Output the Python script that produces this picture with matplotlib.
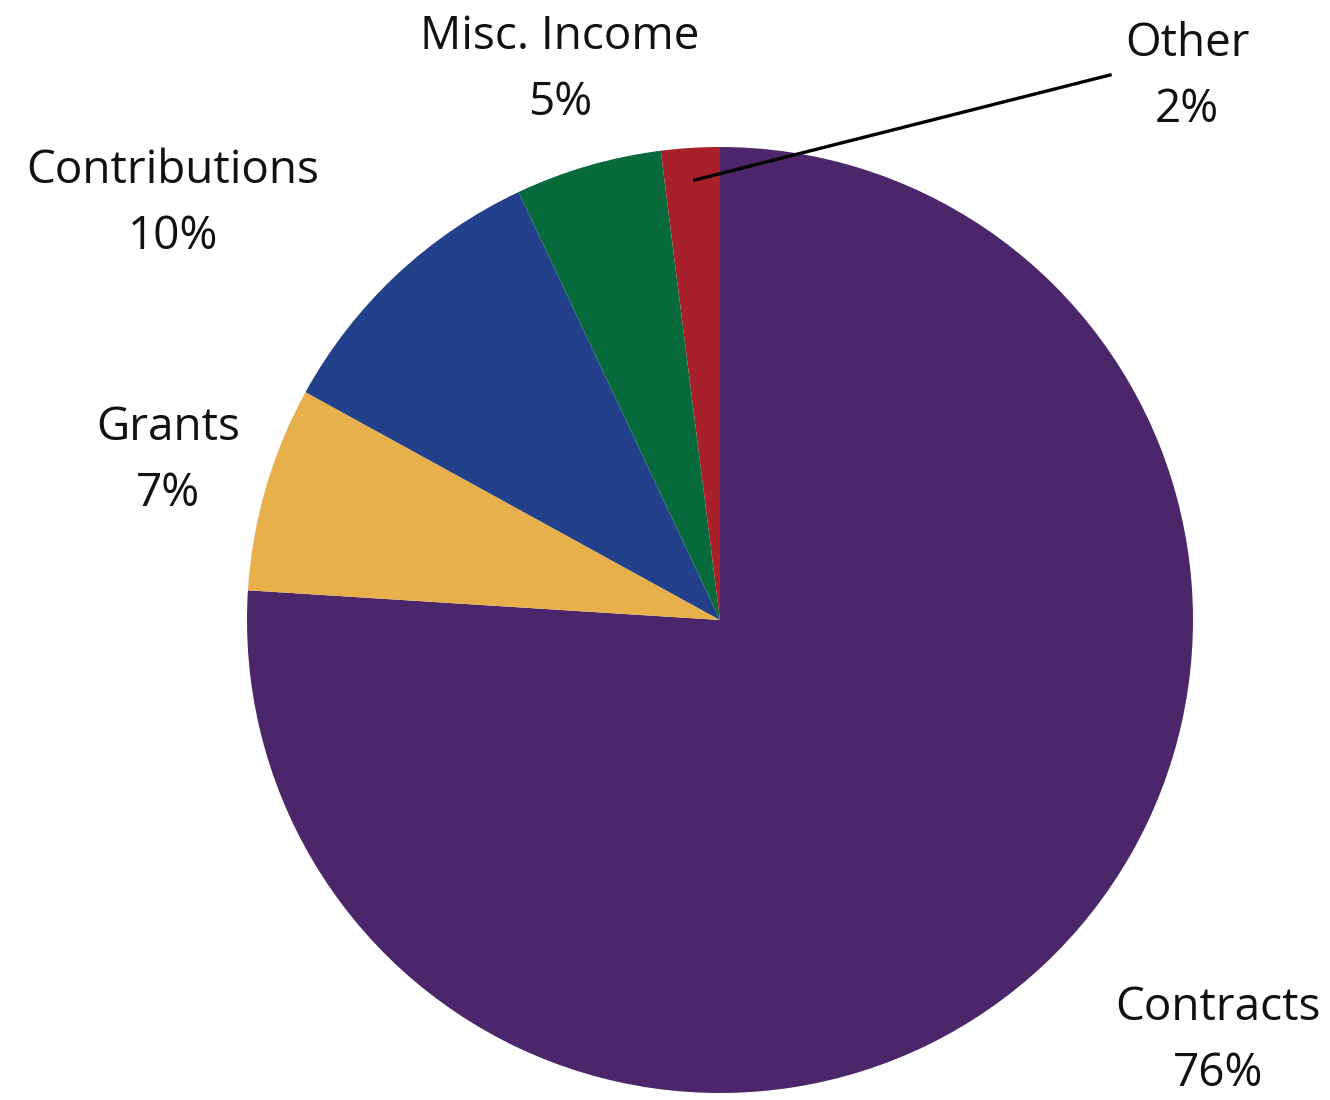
import matplotlib.pyplot as plt

# data
labels = ['Contracts', 'Grants', 'Contributions', 'Misc. Income', 'Other']
values = [76, 7, 10, 5, 2]
colors = ['#4b266b', '#e8b04a', '#22418a', '#076a3a', '#a8202a']

# label positions (figure pixels, y from top)
label_pos = {
    'Contracts': (1218, 1041),
    'Grants': (168, 461),
    'Contributions': (173, 204),
    'Misc. Income': (560, 70),
    'Other': (1187, 77),
}

W, H = 1330, 1100
fig = plt.figure(figsize=(W / 100, H / 100), dpi=100)
ax = fig.add_axes([0, 0, 1, 1])

cx, cy, r = 720, H - 620, 473
ax.pie(values, colors=colors, startangle=90, counterclock=False,
       center=(cx, cy), radius=r, frame=True,
       wedgeprops={'linewidth': 0})
ax.set_xlim(0, W)
ax.set_ylim(0, H)
ax.set_aspect('equal')
ax.axis('off')

for name, v in zip(labels, values):
    x, y = label_pos[name]
    ax.text(x, H - y, f"{name}\n{v}%", ha='center', va='center',
            fontsize=33, family='Open Sans', linespacing=1.58, color='#111111')

# leader line for the small slice
ax.plot([695, 1110], [H - 180, H - 75], color='black', linewidth=2.4)

fig.savefig('out.png', dpi=100)
